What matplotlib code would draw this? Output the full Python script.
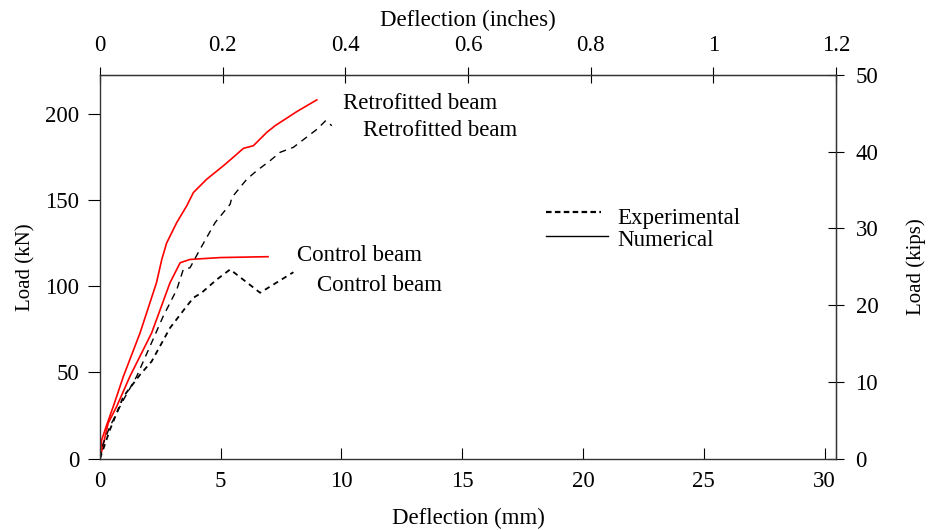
import numpy as np
import matplotlib
matplotlib.use('Agg')
import matplotlib.pyplot as plt
from matplotlib.ticker import FuncFormatter

plt.rcParams['font.family'] = ['Liberation Serif', 'DejaVu Serif']

# Deflection (mm) vs Load (kN)
retro_num_x = [0, 0.07, 0.28, 0.55, 0.97, 1.66, 2.34, 2.56, 2.76, 3.18, 3.59, 3.87,
               4.42, 5.11, 5.46, 5.94, 6.35, 6.91, 7.25, 8.15, 8.98]
retro_num_y = [0, 10.9, 19.6, 30.2, 47.7, 72.9, 102.0, 115.5, 125.0, 136.9, 146.5, 154.3,
               162.0, 169.8, 174.0, 179.9, 181.4, 189.2, 193.0, 201.2, 208.0]

ctrl_num_x = [0, 0.34, 0.69, 1.24, 2.14, 2.90, 3.32, 3.73, 5.0, 6.96]
ctrl_num_y = [0, 20.6, 30.2, 47.7, 72.9, 102.0, 113.6, 115.5, 116.6, 117.1]

retro_exp_x = [0, 0.14, 0.41, 0.97, 1.52, 2.07, 2.62, 3.18, 3.45, 3.73, 4.14, 4.77,
               5.39, 5.46, 6.08, 6.49, 7.04, 7.46, 8.01, 8.99, 9.35, 9.6]
retro_exp_y = [0, 9.0, 18.6, 34.1, 47.7, 65.1, 82.6, 98.0, 109.7, 110.7, 121.3, 136.9,
               147.5, 151.4, 162.0, 166.9, 172.7, 177.6, 180.5, 191.0, 196.0, 193.0]

ctrl_exp_x = [0, 0.41, 0.97, 1.66, 2.14, 2.90, 3.59, 3.87, 4.21, 4.84, 5.39, 6.63, 8.01]
ctrl_exp_y = [0, 16.7, 36.0, 48.7, 56.4, 75.8, 88.4, 93.3, 96.2, 103.9, 109.7, 96.2, 108.1]

mm_ticks = [0, 5, 10, 15, 20, 25, 30]
kn_ticks = [0, 50, 100, 150, 200]
in_ticks = [0, 0.2, 0.4, 0.6, 0.8, 1.0, 1.2]
kip_ticks = [0, 10, 20, 30, 40, 50]

MM_PER_IN = 25.4
KN_PER_KIP = 4.44822

fs = 16.5   # horizontal text (original is slightly stretched)
fs_rot = 15

fig = plt.figure(figsize=(9.29, 5.30), dpi=100)
ax = fig.add_axes([0.1076, 0.1345, 0.7924, 0.724])

ax.plot(retro_num_x, retro_num_y, color='red', lw=1.2)
ax.plot(ctrl_num_x, ctrl_num_y, color='red', lw=1.2)
ax.plot(retro_exp_x, retro_exp_y, color='black', lw=1.0, ls=(0, (5, 4)))
ax.plot(ctrl_exp_x, ctrl_exp_y, color='black', lw=1.3, ls=(0, (3, 2.5)))

ax.set_xlim(0, 1.2 * MM_PER_IN)
ax.set_ylim(0, 50 * KN_PER_KIP)
ax.set_xticks(mm_ticks)
ax.set_yticks(kn_ticks)
ax.tick_params(axis='x', direction='in', length=8, pad=9, labelsize=fs)
ax.tick_params(axis='y', direction='out', length=9, pad=6, labelsize=fs)
ax.set_xlabel('Deflection (mm)', fontsize=fs, labelpad=11)
ax.set_ylabel('Load (kN)', fontsize=fs_rot, labelpad=7)

for s in ax.spines.values():
    s.set_linewidth(1.0)
    s.set_color('#333333')

top = ax.secondary_xaxis('top', functions=(lambda v: v / MM_PER_IN, lambda v: v * MM_PER_IN))
top.set_xticks(in_ticks)
top.xaxis.set_major_formatter(FuncFormatter(lambda v, p: f'{v:g}'))
top.tick_params(direction='inout', length=12, pad=8, labelsize=fs)
top.set_xlabel('Deflection (inches)', fontsize=fs, labelpad=6)

right = ax.secondary_yaxis('right', functions=(lambda v: v / KN_PER_KIP, lambda v: v * KN_PER_KIP))
right.set_yticks(kip_ticks)
right.tick_params(direction='inout', length=12, pad=8, labelsize=fs)
right.set_ylabel('Load (kips)', fontsize=fs_rot, labelpad=20)

ax.text(10.05, 206, 'Retrofitted beam', fontsize=fs, va='center', ha='left')
ax.text(10.9, 190.5, 'Retrofitted beam', fontsize=fs, va='center', ha='left')
ax.text(8.15, 117.5, 'Control beam', fontsize=fs, va='center', ha='left')
ax.text(9.0, 100.5, 'Control beam', fontsize=fs, va='center', ha='left')

# legend drawn as in the original figure
ax.plot([18.45, 20.75], [143, 143], color='black', lw=1.6, ls=(0, (2.5, 1.5)))
ax.plot([18.45, 21.05], [129, 129], color='black', lw=1.0)
ax.text(21.4, 139.5, 'Experimental', fontsize=fs, va='center', ha='left')
ax.text(21.4, 126.5, 'Numerical', fontsize=fs, va='center', ha='left')

fig.savefig('out.png', dpi=100)
